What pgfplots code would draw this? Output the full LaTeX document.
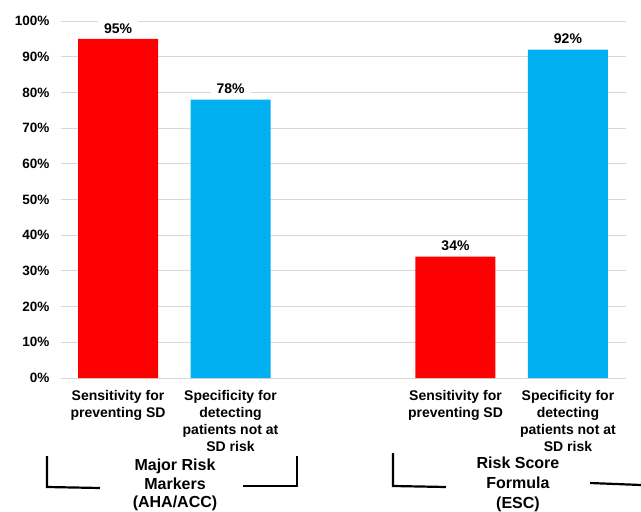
\documentclass[border=0pt]{standalone}
\usepackage{pgfplots}
\pgfplotsset{compat=1.18}
\usepackage{fontspec}
\setmainfont{Liberation Sans}
\definecolor{barred}{HTML}{FF0000}
\definecolor{barblue}{HTML}{00B0F0}
\definecolor{gridgray}{HTML}{D9D9D9}
\begin{document}
\begin{tikzpicture}[x=1pt,y=1pt]
\path[use as bounding box] (-61,-134) rectangle (580,378);
\begin{axis}[
  at={(0,0)}, anchor=south west,
  scale only axis, width=565pt, height=357pt,
  xmin=-0.507, xmax=4.516, ymin=0, ymax=100,
  /pgf/number format/assume math mode=true,
  axis line style={draw=none},
  major tick length=0pt,
  ymajorgrids, grid style={gridgray, line width=1pt},
  ytick={0,10,...,100},
  yticklabels={0\%,10\%,20\%,30\%,40\%,50\%,60\%,70\%,80\%,90\%,100\%},
  yticklabel style={font=\bfseries\fontsize{13.5}{16}\selectfont, xshift=-8pt},
  xtick={0,1,3,4},
  xticklabels={{Sensitivity for\\preventing SD},{Specificity for\\detecting\\patients not at\\SD risk},{Sensitivity for\\preventing SD},{Specificity for\\detecting\\patients not at\\SD risk}},
  xticklabel style={align=center, font=\bfseries\fontsize{14}{16.9}\selectfont, anchor=north, yshift=-9pt},
  clip=false,
  nodes near coords={\pgfmathprintnumber{\pgfplotspointmeta}\%},
  nodes near coords style={font=\bfseries\fontsize{14}{16}\selectfont, fill=white, inner xsep=6pt, yshift=2pt},
]
\addplot[ybar, bar width=80pt, bar shift=0pt, fill=barred, draw=none] coordinates {(0,95) (3,34)};
\addplot[ybar, bar width=80pt, bar shift=0pt, fill=barblue, draw=none] coordinates {(1,78) (4,92)};
\end{axis}
\node[align=center, font=\bfseries\fontsize{16}{18.3}\selectfont] at (114,-107) {Major Risk\\Markers\\(AHA/ACC)};
\node[align=center, font=\bfseries\fontsize{16}{20}\selectfont] at (457,-106) {Risk Score\\Formula\\(ESC)};
\draw[line width=2.2pt] (-14,-78) -- (-14,-109) -- (39,-110);
\draw[line width=2.2pt] (182,-108) -- (236,-108) -- (236,-78);
\draw[line width=2.2pt] (332,-75) -- (332,-108) -- (385,-109);
\draw[line width=2.2pt] (529,-105) -- (580,-107);
\end{tikzpicture}
\end{document}
